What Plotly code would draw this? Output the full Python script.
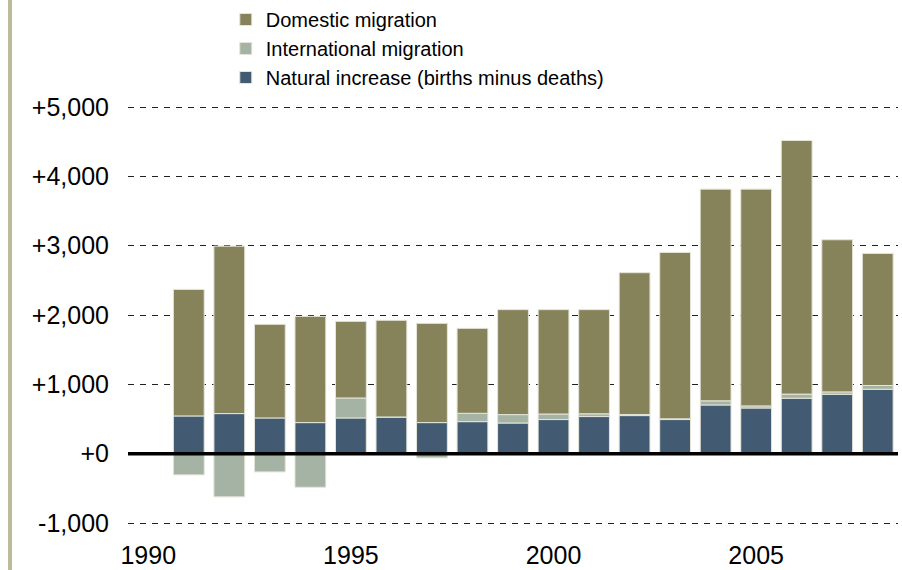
import plotly.graph_objects as go

# Components of annual population change, in people, 1991-2008
years = list(range(1991, 2009))
natural_increase = [545, 579, 516, 449, 516, 530, 449, 463, 443, 493,
                    536, 550, 493, 703, 660, 800, 857, 929]
international_migration = [-305, -622, -262, -483, 288, 0, -60, 120, 121, 80,
                           40, 15, 10, 60, 30, 60, 35, 55]
domestic_migration = [1825, 2415, 1350, 1532, 1105, 1394, 1431, 1225, 1514, 1505,
                      1502, 2046, 2400, 3053, 3126, 3657, 2194, 1905]

series_names = ["Natural increase (births minus deaths)",
                "International migration",
                "Domestic migration"]
series_colors = ["#425A72", "#A4B3A3", "#86835B"]

y_tick_values = [-1000, 0, 1000, 2000, 3000, 4000, 5000]
y_tick_labels = ["-1,000", "+0", "+1,000", "+2,000", "+3,000", "+4,000", "+5,000"]
x_tick_values = [1990, 1995, 2000, 2005]
x_tick_labels = ["1990", "1995", "2000", "2005"]

FONT = "Liberation Sans, Arial, sans-serif"

fig = go.Figure()
for name, values, color in zip(series_names,
                               [natural_increase, international_migration, domestic_migration],
                               series_colors):
    fig.add_trace(go.Bar(
        x=years, y=values, name=name,
        marker=dict(color=color, line=dict(color="#E4E4D8", width=1)),
    ))

fig.update_layout(
    width=902, height=570,
    margin=dict(l=128, r=4, t=105.5, b=40.1),
    barmode="relative",
    bargap=0.24,
    plot_bgcolor="white",
    paper_bgcolor="white",
    font=dict(family=FONT, color="black"),
    legend=dict(
        xref="paper", yref="container",
        x=0.127, y=1.004, xanchor="left", yanchor="top",
        traceorder="reversed",
        font=dict(family=FONT, size=20, color="black"),
        bgcolor="rgba(0,0,0,0)",
        tracegroupgap=0,
    ),
    xaxis=dict(
        range=[1989.5, 2008.5],
        tickvals=x_tick_values, ticktext=x_tick_labels,
        showgrid=False, zeroline=False, showline=False,
        ticks="", tickfont=dict(size=25),
        ticklabelstandoff=8, automargin=False,
    ),
    yaxis=dict(
        range=[-1100, 5015],
        tickvals=y_tick_values, ticktext=y_tick_labels,
        showgrid=True, gridcolor="#222222", gridwidth=1.2, griddash="6px,6px",
        zeroline=False, showline=False,
        ticks="", tickfont=dict(size=25),
        ticklabelstandoff=18, automargin=False,
    ),
    shapes=[
        # heavy baseline at zero
        dict(type="line", xref="paper", yref="y", x0=0, x1=1, y0=0, y1=0,
             line=dict(color="black", width=3.5), layer="above"),
        # decorative rule along the left edge
        dict(type="rect", xref="paper", yref="paper",
             x0=-0.1558, x1=-0.1506, y0=-0.1, y1=1.26,
             fillcolor="#BDB99B", line=dict(width=0), layer="above"),
    ],
)

fig.write_html("out.html")
